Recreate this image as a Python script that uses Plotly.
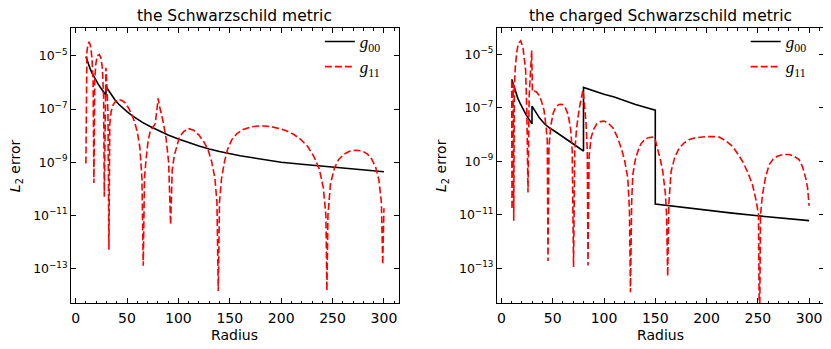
import plotly.graph_objects as go
from plotly.subplots import make_subplots

# Schwarzschild panel
r_g00_left = [10, 12, 14, 16, 18, 20, 22, 24, 26, 28, 29.5, 29.5, 32, 35, 38, 42, 46, 50, 55, 60,
              65, 72, 80, 90, 100, 110, 120, 130, 140, 160, 180, 200, 220, 240, 260, 280, 300]
g00_left = [9.55e-6, 5.37e-6, 3.39e-6, 2.24e-6, 1.58e-6, 1.15e-6, 8.71e-7, 6.61e-7, 5.13e-7, 3.98e-7,
            3.31e-7, 7.08e-7, 5.01e-7, 3.31e-7, 2.29e-7, 1.51e-7, 1.05e-7, 7.94e-8, 5.62e-8, 4.17e-8,
            3.16e-8, 2.24e-8, 1.58e-8, 1.05e-8, 7.41e-9, 5.37e-9, 4.07e-9, 3.16e-9, 2.51e-9, 1.74e-9,
            1.29e-9, 1.0e-9, 8.32e-10, 7.08e-10, 6.03e-10, 5.13e-10, 4.37e-10]

r_g11_left = [10.0, 10.5, 11.0, 12.0, 13.0, 14.0, 15.0, 16.0, 17.0, 17.8, 18.6, 19.5, 21.0, 23.0, 24.5,
              26.0, 27.2, 27.9, 28.6, 29.5, 30.5, 31.5, 32.4, 33.2, 34.5, 36.5, 39.0, 42.0, 45.0, 48.0,
              51.0, 54.0, 57.0, 60.0, 62.5, 64.5, 65.8, 67.0, 68.5, 70.5, 72.5, 75.0, 77.5, 79.0, 80.3,
              82.0, 85.0, 88.0, 90.5, 92.4, 94.0, 96.0, 98.5, 101.0, 105.0, 110.0, 115.0, 120.0, 125.0,
              129.0, 132.5, 135.5, 137.5, 138.8, 140.0, 142.0, 145.0, 148.0, 152.0, 157.0, 163.0, 170.0,
              177.0, 184.0, 191.0, 198.0, 205.0, 212.0, 219.0, 226.0, 232.0, 237.0, 241.0, 243.5, 244.5,
              245.5, 248.0, 252.0, 256.0, 261.0, 267.0, 273.0, 279.0, 284.0, 288.0, 292.0, 295.0, 297.5,
              298.8, 300.0]
g11_left = [8.91e-10, 2.51e-6, 1.41e-5, 2.82e-5, 3.24e-5, 2.82e-5, 1.78e-5, 7.08e-6, 1.0e-6, 1.66e-10,
            1.0e-6, 4.47e-6, 1.0e-5, 1.12e-5, 8.91e-6, 3.55e-6, 3.16e-7, 5.01e-11, 3.16e-7, 3.55e-6,
            6.31e-7, 6.31e-8, 5.01e-13, 2.51e-8, 7.94e-8, 1.45e-7, 2.0e-7, 2.29e-7, 2.09e-7, 1.74e-7,
            1.17e-7, 7.08e-8, 3.55e-8, 1.41e-8, 3.55e-9, 2.51e-10, 1.26e-13, 2.51e-10, 1.26e-9, 6.31e-9,
            1.41e-8, 2.0e-8, 2.82e-8, 8.91e-8, 2.51e-7, 1.12e-7, 3.55e-8, 7.94e-9, 1.0e-9, 4.47e-12,
            5.01e-10, 1.78e-9, 4.47e-9, 8.91e-9, 1.41e-8, 1.82e-8, 1.58e-8, 1.05e-8, 5.62e-9, 2.82e-9,
            1.0e-9, 2.51e-10, 3.16e-11, 1.41e-14, 3.16e-11, 2.51e-10, 1.12e-9, 3.16e-9, 7.08e-9, 1.20e-8,
            1.70e-8, 2.09e-8, 2.29e-8, 2.29e-8, 2.14e-8, 1.86e-8, 1.51e-8, 1.12e-8, 7.24e-9, 3.80e-9,
            1.58e-9, 5.62e-10, 1.10e-10, 1.0e-11, 1.45e-14, 1.0e-11, 1.58e-10, 6.31e-10, 1.26e-9, 2.0e-9,
            2.63e-9, 2.82e-9, 2.63e-9, 2.0e-9, 1.32e-9, 6.31e-10, 2.24e-10, 3.16e-11, 1.41e-13, 1.86e-11]

# charged Schwarzschild panel
r_g00_right = [10, 12, 14, 16, 18, 20, 22, 24, 26, 28, 29.8, 29.8, 33, 37, 42, 47, 52, 57, 62, 68,
               74, 80, 80, 90, 100, 110, 120, 130, 140, 150, 150, 175, 200, 225, 250, 275, 300]
g00_right = [1.17e-6, 6.31e-7, 3.63e-7, 2.24e-7, 1.51e-7, 1.05e-7, 7.59e-8, 5.50e-8, 4.17e-8, 3.16e-8,
             2.51e-8, 1.15e-7, 7.08e-8, 4.17e-8, 2.51e-8, 1.74e-8, 1.32e-8, 9.55e-9, 7.08e-9, 5.01e-9,
             3.47e-9, 2.40e-9, 5.75e-7, 4.17e-7, 3.16e-7, 2.51e-7, 1.82e-7, 1.35e-7, 1.05e-7, 8.13e-8,
             2.51e-11, 1.91e-11, 1.48e-11, 1.15e-11, 9.12e-12, 7.41e-12, 6.03e-12]

r_g11_right = [10.0, 10.3, 10.8, 11.5, 12.0, 12.6, 13.5, 15.0, 16.5, 18.8, 21.0, 22.5, 23.6, 24.8, 25.9,
               27.0, 28.3, 29.5, 30.2, 32.0, 34.0, 36.6, 39.0, 41.5, 43.5, 44.7, 45.4, 46.3, 48.0, 50.5,
               53.0, 56.0, 59.0, 62.0, 65.0, 67.5, 69.0, 70.3, 71.5, 73.5, 76.0, 78.0, 79.5, 81.0, 82.5,
               83.7, 84.4, 85.5, 87.5, 90.0, 93.0, 96.5, 100.0, 104.0, 108.6, 112.5, 116.7, 120.0, 123.2,
               124.8, 125.8, 127.0, 128.1, 130.5, 133.0, 136.0, 139.4, 143.0, 147.5, 150.0, 152.4, 155.0,
               157.3, 159.8, 161.0, 162.1, 163.2, 165.4, 169.0, 173.5, 178.0, 183.2, 188.0, 193.0, 200.0,
               206.0, 212.4, 218.0, 225.3, 230.0, 235.0, 240.0, 244.8, 248.5, 250.6, 251.6, 252.6, 254.5,
               257.5, 261.0, 265.0, 269.0, 275.0, 280.5, 285.5, 290.2, 293.5, 296.7, 298.5, 300.0]
g11_right = [1.0e-6, 1.58e-11, 5.01e-7, 7.94e-7, 5.89e-12, 6.31e-7, 3.16e-6, 1.26e-5, 2.51e-5, 3.16e-5,
             1.78e-5, 6.31e-6, 2.51e-6, 6.31e-8, 6.76e-11, 2.51e-7, 3.98e-6, 1.38e-5, 3.98e-7, 4.17e-7,
             3.98e-7, 2.95e-7, 1.78e-7, 8.13e-8, 2.0e-8, 6.03e-9, 1.86e-13, 3.16e-9, 2.0e-8, 6.31e-8,
             1.07e-7, 1.32e-7, 1.35e-7, 1.07e-7, 5.62e-8, 1.58e-8, 2.51e-9, 1.12e-13, 2.51e-9, 2.0e-8,
             1.0e-7, 2.51e-7, 4.57e-7, 1.26e-7, 2.51e-8, 2.51e-9, 1.26e-13, 1.58e-9, 7.94e-9, 1.58e-8,
             2.51e-8, 3.02e-8, 3.16e-8, 2.69e-8, 1.78e-8, 8.91e-9, 3.16e-9, 1.12e-9, 2.34e-10, 1.58e-11,
             1.26e-14, 3.16e-11, 3.16e-10, 1.12e-9, 2.34e-9, 4.47e-9, 6.31e-9, 7.59e-9, 7.94e-9, 6.31e-9,
             2.82e-9, 1.12e-9, 4.17e-10, 6.31e-11, 1.0e-11, 5.01e-14, 2.51e-11, 4.17e-10, 1.41e-9, 3.16e-9,
             4.79e-9, 6.46e-9, 7.41e-9, 7.94e-9, 8.32e-9, 8.32e-9, 7.94e-9, 6.03e-9, 3.63e-9, 2.0e-9,
             1.0e-9, 3.98e-10, 1.32e-10, 3.16e-11, 1.0e-11, 1.0e-16, 1.0e-11, 5.62e-11, 2.51e-10, 7.41e-10,
             1.20e-9, 1.55e-9, 1.78e-9, 1.78e-9, 1.51e-9, 1.15e-9, 6.31e-10, 2.34e-10, 1.0e-10, 2.14e-11]

titles = ["the Schwarzschild metric", "the charged Schwarzschild metric"]
y_ticks = [1e-5, 1e-7, 1e-9, 1e-11, 1e-13]
y_ticktext = ["10<sup>\u22125</sup>", "10<sup>\u22127</sup>", "10<sup>\u22129</sup>",
              "10<sup>\u221211</sup>", "10<sup>\u221213</sup>"]
x_ticks = [0, 50, 100, 150, 200, 250, 300]

FONT = "DejaVu Sans"
SERIF = "Liberation Serif"
DASH = "7px,3px"
DOMAINS = [(0, 0.4354), (0.5655, 1)]

fig = make_subplots(rows=1, cols=2, horizontal_spacing=0.13)

panels = [
    (r_g00_left, g00_left, r_g11_left, g11_left, "legend"),
    (r_g00_right, g00_right, r_g11_right, g11_right, "legend2"),
]
for i, (r0, v0, r1, v1, leg) in enumerate(panels, 1):
    fig.add_trace(go.Scatter(x=r0, y=v0, mode="lines", name="<i>g</i><sub>00</sub>",
                             line=dict(color="black", width=1.6), legend=leg),
                  row=1, col=i)
    fig.add_trace(go.Scatter(x=r1, y=v1, mode="lines", name="<i>g</i><sub>11</sub>",
                             line=dict(color="#ff0000", width=1.6, dash=DASH), legend=leg),
                  row=1, col=i)

axis_common = dict(showline=True, linecolor="black", linewidth=1, mirror="allticks",
                   ticks="inside", tickcolor="black", showgrid=False, zeroline=False,
                   automargin=False)

fig.update_xaxes(range=[-4.5, 314.5], tickvals=x_ticks, ticklen=5, tickwidth=1,
                 minor=dict(dtick=10, tick0=0, ticks="inside", ticklen=2.5, tickcolor="black"),
                 tickfont=dict(family=FONT, size=14, color="black"),
                 ticklabelstandoff=2,
                 **axis_common)
fig.update_yaxes(type="log", tickvals=y_ticks, ticktext=y_ticktext, ticklen=5, tickwidth=1,
                 tickfont=dict(family=FONT, size=12.5, color="black"),
                 ticklabelstandoff=0,
                 **axis_common)
fig.update_yaxes(range=[-14.3, -3.95], row=1, col=1)
fig.update_yaxes(range=[-14.3, -4.02], row=1, col=2)
fig.update_xaxes(domain=DOMAINS[0], row=1, col=1)
fig.update_xaxes(domain=DOMAINS[1], row=1, col=2)

for dom, text in zip(DOMAINS, titles):
    mid = (dom[0] + dom[1]) / 2
    fig.add_annotation(text=text, x=mid, y=1.0436, xref="paper", yref="paper",
                       xanchor="center", yanchor="middle", showarrow=False,
                       font=dict(family=FONT, size=15.5, color="black"))
    fig.add_annotation(text="Radius", x=mid, y=-0.118, xref="paper", yref="paper",
                       xanchor="center", yanchor="middle", showarrow=False,
                       font=dict(family=FONT, size=14, color="black"))
    fig.add_annotation(text="<i>L</i><sub>2</sub> error", textangle=-90,
                       x=dom[0] - 0.0735, y=0.50, xref="paper", yref="paper",
                       xanchor="center", yanchor="middle", showarrow=False,
                       font=dict(family=FONT, size=14, color="black"))

legend_style = dict(yanchor="top", xanchor="left", bgcolor="rgba(0,0,0,0)", borderwidth=0,
                    font=dict(family=SERIF, size=17, color="black"), itemwidth=30,
                    tracegroupgap=0)
# the page body keeps its default 8px margin, so the figure is drawn 8px smaller
fig.update_layout(
    width=823, height=341,
    margin=dict(l=63, r=7, t=20, b=46, autoexpand=False),
    plot_bgcolor="white", paper_bgcolor="white",
    showlegend=True,
    legend=dict(x=0.3305, y=1.0145, **legend_style),
    legend2=dict(x=0.896, y=1.0145, **legend_style),
)

fig.write_html("out.html")
